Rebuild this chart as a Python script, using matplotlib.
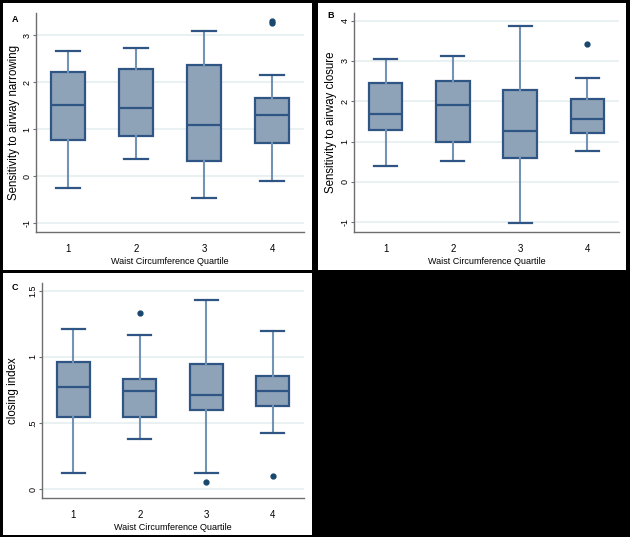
import matplotlib
matplotlib.use("Agg")
from matplotlib import pyplot as plt
from matplotlib.patches import Rectangle

plt.rcParams['font.family'] = ['Liberation Sans', 'DejaVu Sans']

quartiles = ["1", "2", "3", "4"]

# panel A - sensitivity to airway narrowing
a_whislo = [-0.26, 0.37, -0.46, -0.11]
a_q1 = [0.77, 0.86, 0.33, 0.70]
a_med = [1.51, 1.45, 1.08, 1.30]
a_q3 = [2.21, 2.27, 2.37, 1.67]
a_whishi = [2.67, 2.73, 3.09, 2.16]
a_fliers = [[], [], [], [3.25, 3.31]]

# panel B - sensitivity to airway closure
b_whislo = [0.40, 0.52, -1.02, 0.78]
b_q1 = [1.28, 0.98, 0.60, 1.21]
b_med = [1.68, 1.90, 1.27, 1.57]
b_q3 = [2.45, 2.50, 2.27, 2.05]
b_whishi = [3.06, 3.13, 3.87, 2.59]
b_fliers = [[], [], [], [3.42]]

# panel C - closing index
c_whislo = [0.118, 0.376, 0.118, 0.421]
c_q1 = [0.543, 0.543, 0.598, 0.631]
c_med = [0.773, 0.742, 0.712, 0.745]
c_q3 = [0.962, 0.833, 0.947, 0.858]
c_whishi = [1.21, 1.169, 1.432, 1.199]
c_fliers = [[], [1.333], [0.05], [0.098]]

W, H = 630, 537
fill_col = "#8FA3B8"
edge_col = "#2E5583"
whisk_col = "#7393B5"
dot_col = "#1A476F"
grid_col = "#E6EFF1"
axis_col = "#6E6E6E"


def fx(px):
    return px / W


def fy(py):
    return 1 - py / H


def panel(fig, rect_px, ax_px, whislo, q1, med, q3, whishi, fliers,
          ylim, yticks, yticklabels, ylabel, letter, letter_px, ylabel_px):
    # white background for the panel
    x0, y0, x1, y1 = rect_px
    fig.add_artist(Rectangle((fx(x0), fy(y1)), fx(x1 - x0), (y1 - y0) / H,
                             transform=fig.transFigure, facecolor="white",
                             edgecolor="none", zorder=-1))
    l, t, r, b = ax_px
    ax = fig.add_axes([fx(l), fy(b), fx(r - l), (b - t) / H])
    ax.set_facecolor("none")

    stats = []
    for i in range(len(quartiles)):
        stats.append(dict(med=med[i], q1=q1[i], q3=q3[i], whislo=whislo[i],
                          whishi=whishi[i], fliers=fliers[i], label=quartiles[i]))
    ax.bxp(stats, positions=[1, 2, 3, 4], widths=0.5, capwidths=0.34,
           patch_artist=True,
           boxprops=dict(facecolor=fill_col, edgecolor=edge_col, linewidth=1.6),
           medianprops=dict(color=edge_col, linewidth=1.6),
           whiskerprops=dict(color=whisk_col, linewidth=1.5),
           capprops=dict(color=edge_col, linewidth=1.6),
           flierprops=dict(marker="o", markersize=3.5, markerfacecolor=dot_col,
                           markeredgecolor=dot_col))

    ax.set_xlim(0.53, 4.47)
    ax.set_ylim(*ylim)
    ax.set_yticks(yticks)
    ax.set_yticklabels(yticklabels, rotation=90, va="center", fontsize=6.5)
    ax.grid(axis="y", color=grid_col, linewidth=1.2)
    ax.set_axisbelow(True)
    ax.tick_params(axis="y", length=2.5, width=0.8, color=axis_col, pad=0.8)
    ax.tick_params(axis="x", length=0, labelsize=7, pad=9)
    for s in ["top", "right"]:
        ax.spines[s].set_visible(False)
    for s in ["left", "bottom"]:
        ax.spines[s].set_color(axis_col)
        ax.spines[s].set_linewidth(1.0)
    ax.set_xlabel("Waist Circumference Quartile", fontsize=6.5, labelpad=1.5)

    fig.text(fx(ylabel_px[0]), fy(ylabel_px[1]), ylabel, rotation=90,
             ha="center", va="center", fontsize=8.3)
    fig.text(fx(letter_px[0]), fy(letter_px[1]), letter, ha="center",
             va="center", fontsize=6.5, fontweight="bold")
    return ax


fig = plt.figure(figsize=(6.3, 5.37), dpi=100)
fig.patch.set_facecolor("black")

panel(fig, (3, 3, 312, 270), (36, 13, 304, 232),
      a_whislo, a_q1, a_med, a_q3, a_whishi, a_fliers,
      (-1.19, 3.47), [-1, 0, 1, 2, 3], ["-1", "0", "1", "2", "3"],
      "Sensitivity to airway narrowing", "A", (15, 20), (14, 122))

panel(fig, (318, 3, 626, 270), (354, 13, 619, 232),
      b_whislo, b_q1, b_med, b_q3, b_whishi, b_fliers,
      (-1.24, 4.19), [-1, 0, 1, 2, 3, 4], ["-1", "0", "1", "2", "3", "4"],
      "Sensitivity to airway closure", "B", (331, 16), (331, 122))

panel(fig, (3, 273, 312, 535), (42, 283, 304, 498),
      c_whislo, c_q1, c_med, c_q3, c_whishi, c_fliers,
      (-0.068, 1.56), [0, 0.5, 1, 1.5], ["0", ".5", "1", "1.5"],
      "closing index", "C", (15, 287), (13, 391))

fig.savefig("out.png", dpi=100, facecolor=fig.get_facecolor())
